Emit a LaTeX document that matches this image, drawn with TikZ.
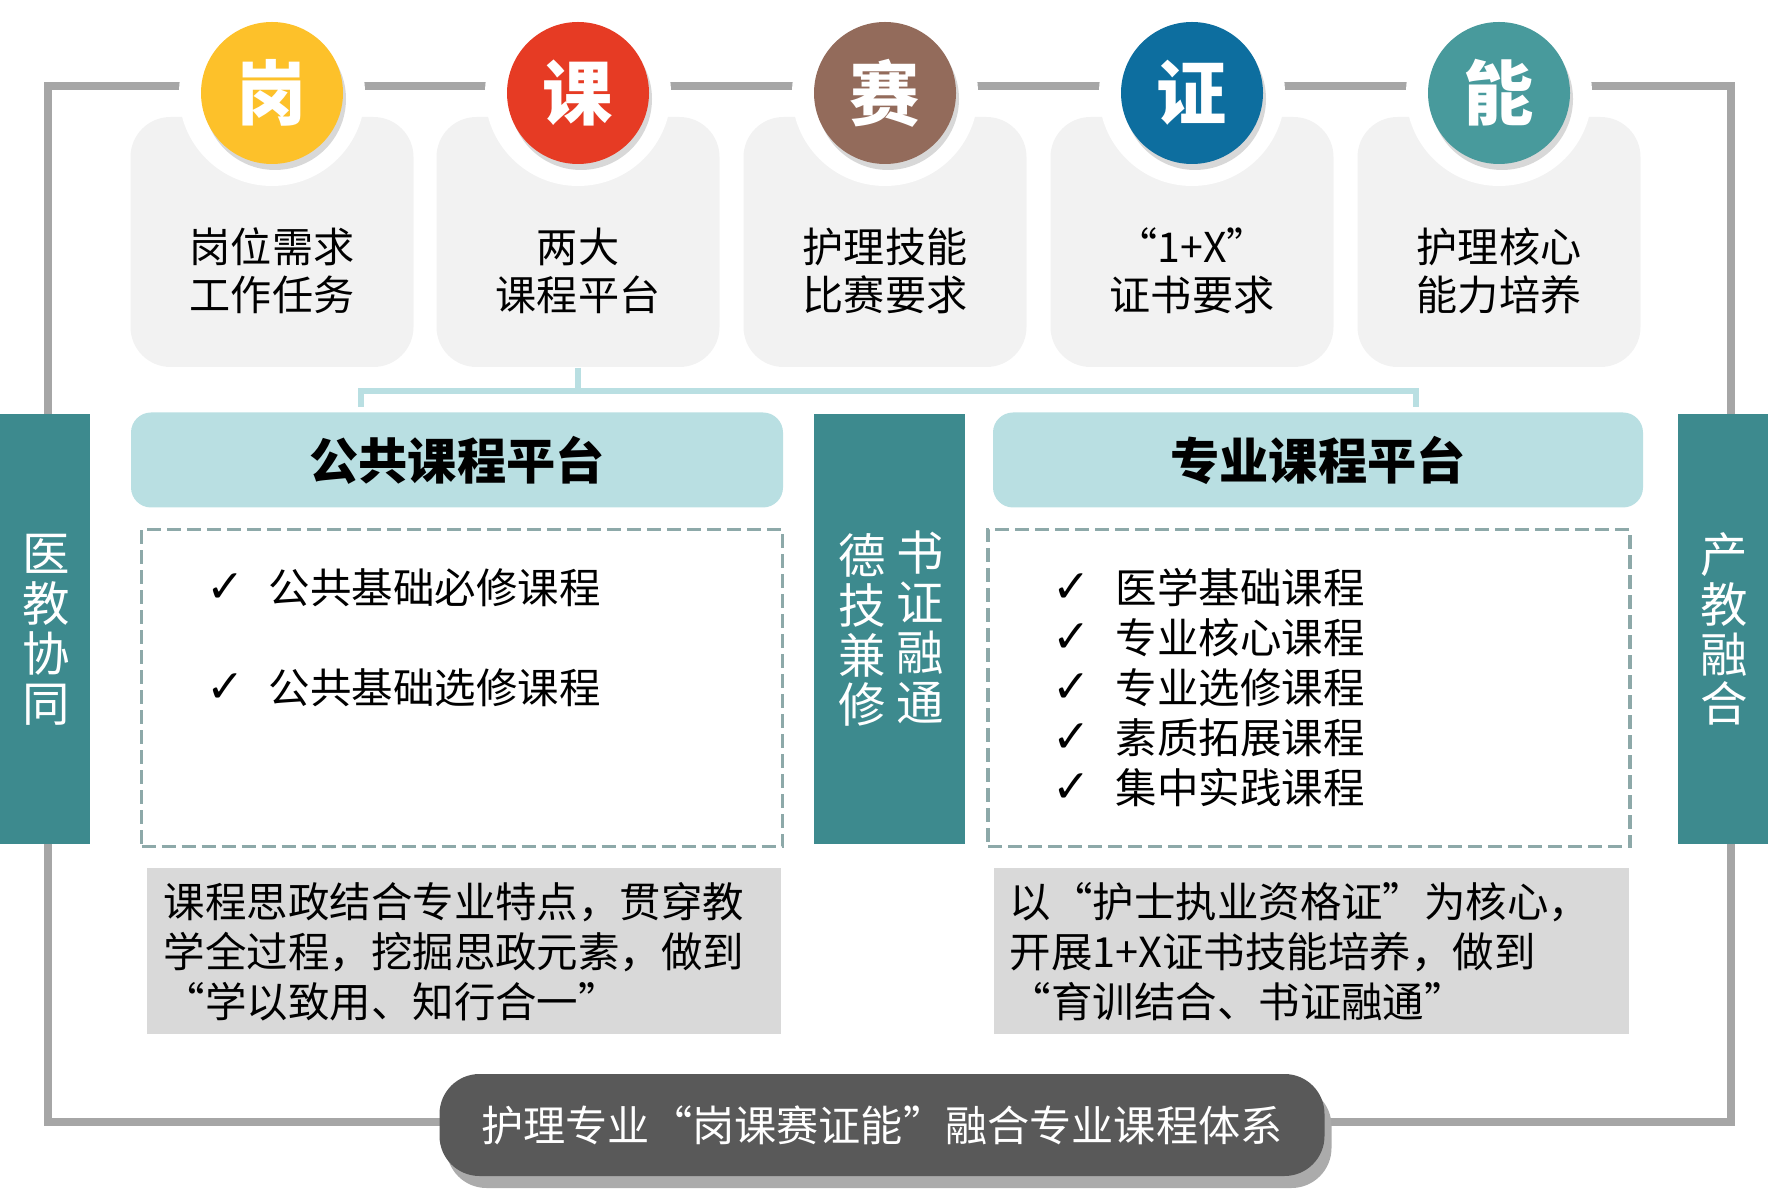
\documentclass[tikz,border=0pt]{standalone}
\usepackage{fontspec}
\setmainfont{Noto Sans CJK SC}
\newfontfamily\symfont{DejaVu Sans}
\usetikzlibrary{shadows}
\definecolor{framegray}{HTML}{A6A6A6}
\definecolor{cardgray}{HTML}{F2F2F2}
\definecolor{cgang}{HTML}{FDC12A}
\definecolor{cke}{HTML}{E63B24}
\definecolor{csai}{HTML}{936B5B}
\definecolor{czheng}{HTML}{0D6E9F}
\definecolor{cneng}{HTML}{489A9C}
\definecolor{barteal}{HTML}{3D8A8E}
\definecolor{lteal}{HTML}{B9DFE2}
\definecolor{dashgray}{HTML}{8DA9A9}
\definecolor{notegray}{HTML}{D9D9D9}
\definecolor{pillgray}{HTML}{595959}
\definecolor{pillshadow}{HTML}{ABABAB}

\begin{document}
\begin{tikzpicture}[x=0.1mm,y=-0.1mm,
  card/.style={fill=cardgray,rounded corners=4mm,minimum width=28.3mm,minimum height=25mm,inner sep=0},
  badge/.style={circle,minimum size=14.2mm,inner sep=0,text=white,font=\fontsize{20}{24}\selectfont\bfseries,
    drop shadow={shadow xshift=0.3mm,shadow yshift=-0.6mm,opacity=0.3}},
  cardtxt/.style={align=center,inner sep=0,font=\fontsize{11.7}{13.7}\selectfont},
  hdr/.style={fill=lteal,rounded corners=2mm,minimum height=9.5mm,inner sep=0,font=\fontsize{14}{16}\selectfont\bfseries},
  link/.style={draw=lteal,line width=0.6mm},
  bar/.style={fill=barteal,minimum height=43mm,inner sep=0},
  vtxt/.style={text=white,align=center,inner sep=0,font=\fontsize{13.5}{14.2}\selectfont},
  dbox/.style={draw=dashgray,line width=0.35mm,dash pattern=on 1.4mm off 0.6mm,minimum height=31.7mm,inner sep=0},
  chk/.style={inner sep=0,font=\symfont\fontsize{13}{15}\selectfont},
  item/.style={inner sep=0,anchor=west,font=\fontsize{11.8}{14}\selectfont},
  note/.style={fill=notegray,minimum height=16.6mm,inner sep=0},
  notetxt/.style={inner sep=0,anchor=west,align=left,font=\fontsize{11.8}{14.2}\selectfont},
  pill/.style={rounded corners=4mm,minimum width=88.5mm,minimum height=10.2mm,inner sep=0}]
\useasboundingbox (0,0) rectangle (1768,1189);
\draw[framegray,line width=0.8mm] (48,86) rectangle (1731,1122);
\foreach \i/\cx/\col/\ch/\txt in {1/272/cgang/岗/{岗位需求\\工作任务},2/578/cke/课/{两大\\课程平台},
  3/885/csai/赛/{护理技能\\比赛要求},4/1192/czheng/证/{“1+X”\\证书要求},5/1499/cneng/能/{护理核心\\能力培养}}{
  \node[card] (card\i) at (\cx,242) {};
  \fill[white] (\cx,93) circle (9.3mm);
  \node[badge,fill=\col] (b\i) at (\cx,93) {\ch};
  \node[cardtxt] (t\i) at (\cx,271) {\txt};
}
\coordinate (busL) at (361,407);
\coordinate (busR) at (1416,407);
\draw[link] (card2.south) -- ++(0,23) coordinate (bus);
\draw[link] (busL) |- (bus) -| (busR);
\node[hdr,minimum width=65.2mm] (hdrL) at (457,460) {公共课程平台};
\node[hdr,minimum width=65mm] (hdrR) at (1318,460) {专业课程平台};
\node[bar,minimum width=9mm] (barL) at (45,629) {};
\node[bar,minimum width=15.1mm] (barM) at (889,629) {};
\node[bar,minimum width=9mm] (barR) at (1723,629) {};
\node[vtxt] (vL) at (46,630) {医\\教\\协\\同};
\node[vtxt] (vM1) at (862,630) {德\\技\\兼\\修};
\node[vtxt] (vM2) at (920,627) {书\\证\\融\\通};
\node[vtxt] (vR) at (1724,629) {产\\教\\融\\合};
\node[dbox,minimum width=64.1mm] (boxL) at (462,688) {};
\node[dbox,minimum width=64.2mm] (boxR) at (1309,688) {};
\foreach \t [count=\k] in {公共基础必修课程,公共基础选修课程}{
  \node[chk] (ckL\k) at (226,488+100*\k) {✓};
  \node[item] (itL\k) at (268,488+100*\k) {\t};
}
\foreach \t [count=\k] in {医学基础课程,专业核心课程,专业选修课程,素质拓展课程,集中实践课程}{
  \node[chk] (ckR\k) at (1072,538+50*\k) {✓};
  \node[item] (itR\k) at (1115,538+50*\k) {\t};
}
\node[note,minimum width=63.4mm] (noteL) at (464,951) {};
\node[note,minimum width=63.5mm] (noteR) at (1311,951) {};
\node[notetxt] (ntL) at (163,952) {课程思政结合专业特点，贯穿教\\学全过程，挖掘思政元素，做到\\“学以致用、知行合一”};
\node[notetxt] (ntR) at (1009,952) {以“护士执业资格证”为核心，\\开展1+X证书技能培养，做到\\“育训结合、书证融通”};
\node[pill,fill=pillshadow] (titleshadow) at (889,1137) {};
\node[pill,fill=pillgray,text=white,font=\fontsize{12}{14}\selectfont] (title) at (882,1125) {护理专业“岗课赛证能”融合专业课程体系};
\end{tikzpicture}
\end{document}
